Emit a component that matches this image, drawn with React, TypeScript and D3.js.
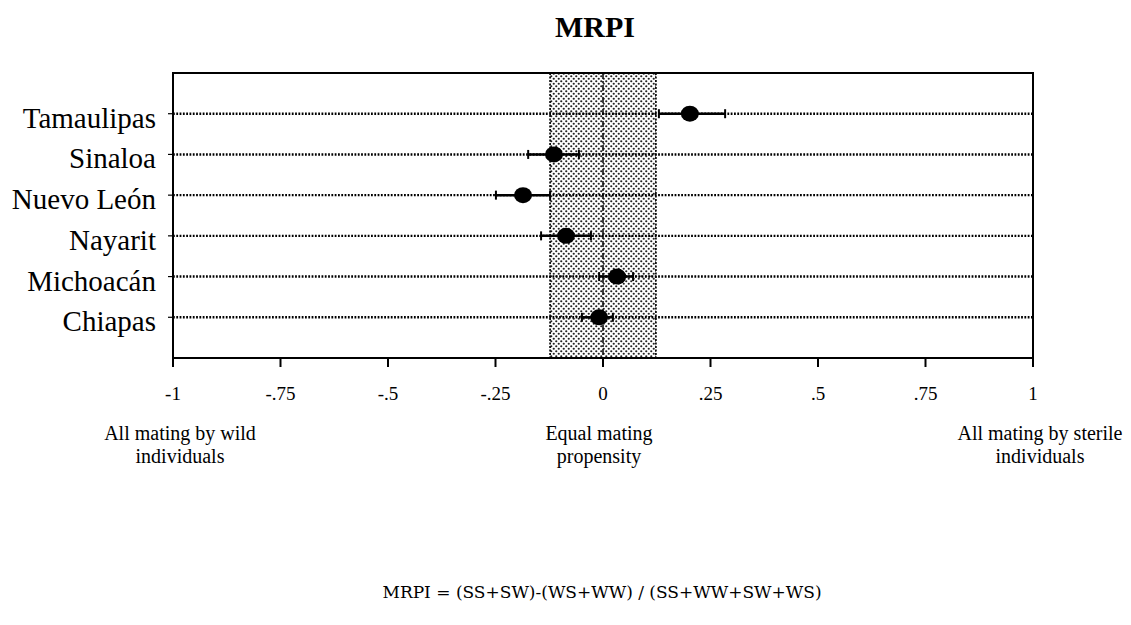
import React from "react";
import * as d3 from "d3";

const categories = ["Tamaulipas", "Sinaloa", "Nuevo León", "Nayarit", "Michoacán", "Chiapas"];
const means = [0.202, -0.114, -0.186, -0.086, 0.033, -0.009];
const lowers = [0.13, -0.174, -0.249, -0.144, -0.009, -0.049];
const uppers = [0.284, -0.056, -0.123, -0.028, 0.07, 0.023];
const bandRange = [-0.123, 0.123];
const xTickValues = [-1, -0.75, -0.5, -0.25, 0, 0.25, 0.5, 0.75, 1];
const xTickLabels = ["-1", "-.75", "-.5", "-.25", "0", ".25", ".5", ".75", "1"];
const annotationValues = [-1, 0, 1];
const annotationLines = [
  ["All mating by wild", "individuals"],
  ["Equal mating", "propensity"],
  ["All mating by sterile", "individuals"],
];
const annotationShift = [7, -4, 7];
const title = "MRPI";
const formula = "MRPI = (SS+SW)-(WS+WW) / (SS+WW+SW+WS)";

const W = 1131;
const H = 625;
const L = 173, R = 1033, T = 73, B = 358;
const FONT = "'Liberation Serif', 'Times New Roman', serif";

export default function App() {
  const x = d3.scaleLinear().domain([-1, 1]).range([L, R]);
  const y = d3.scalePoint<string>().domain(categories).range([T, B]).padding(1);

  return (
    <svg width={W} height={H} style={{ position: "absolute", left: 0, top: 0, background: "#fff" }} fontFamily={FONT}>
      <defs>
        <pattern id="stipple" width={5} height={5} patternUnits="userSpaceOnUse">
          <rect width={5} height={5} fill="#fff" />
          <circle cx={1.25} cy={1.25} r={1.1} fill="#222" />
          <circle cx={3.75} cy={3.75} r={1.1} fill="#222" />
        </pattern>
      </defs>
      <text x={595} y={37} textAnchor="middle" fontSize={30} fontWeight="bold">{title}</text>

      {/* shaded band */}
      <rect x={x(bandRange[0])} y={T} width={x(bandRange[1]) - x(bandRange[0])} height={B - T} fill="url(#stipple)" />
      {bandRange.map((v, i) => (
        <line key={"b" + i} x1={x(v)} x2={x(v)} y1={T} y2={B} stroke="#111" strokeWidth={1.8} strokeDasharray="2,1.5" />
      ))}
      <line x1={x(0)} x2={x(0)} y1={T} y2={B} stroke="#111" strokeWidth={1.6} strokeDasharray="6,2,2,2" />

      {/* row dotted lines */}
      {categories.map((c) => (
        <line key={"r" + c} x1={L} x2={R} y1={y(c)} y2={y(c)} stroke="#000" strokeWidth={2.4} strokeDasharray="1.8,1.5" />
      ))}

      {/* frame */}
      <rect x={L} y={T} width={R - L} height={B - T} fill="none" stroke="#000" strokeWidth={2} />

      {/* y ticks and labels */}
      {categories.map((c) => (
        <g key={"y" + c}>
          <line x1={L - 5} x2={L} y1={y(c)} y2={y(c)} stroke="#000" strokeWidth={1.2} />
          <text x={156} y={(y(c) as number) + 14} textAnchor="end" fontSize={29}>{c}</text>
        </g>
      ))}

      {/* x ticks */}
      {xTickValues.map((v, i) => (
        <g key={"x" + i}>
          <line x1={x(v)} x2={x(v)} y1={B} y2={B + 9} stroke="#000" strokeWidth={2} />
          <text x={x(v)} y={400} textAnchor="middle" fontSize={19}>{xTickLabels[i]}</text>
        </g>
      ))}

      {/* error bars and points */}
      {categories.map((c, i) => {
        const cy = y(c) as number;
        return (
          <g key={"p" + c}>
            <line x1={x(lowers[i])} x2={x(uppers[i])} y1={cy} y2={cy} stroke="#000" strokeWidth={2.5} />
            <line x1={x(lowers[i])} x2={x(lowers[i])} y1={cy - 4.5} y2={cy + 4.5} stroke="#000" strokeWidth={2} />
            <line x1={x(uppers[i])} x2={x(uppers[i])} y1={cy - 4.5} y2={cy + 4.5} stroke="#000" strokeWidth={2} />
            <ellipse cx={x(means[i])} cy={cy} rx={9} ry={8} fill="#000" />
          </g>
        );
      })}

      {/* annotations */}
      {annotationValues.map((v, i) => (
        <text key={"a" + i} x={x(v) + annotationShift[i]} y={440} textAnchor="middle" fontSize={20}>
          {annotationLines[i].map((ln, j) => (
            <tspan key={j} x={x(v) + annotationShift[i]} dy={j === 0 ? 0 : 23}>{ln}</tspan>
          ))}
        </text>
      ))}

      <text x={602} y={598} textAnchor="middle" fontSize={17} fontFamily="'DejaVu Serif', serif">{formula}</text>
    </svg>
  );
}
